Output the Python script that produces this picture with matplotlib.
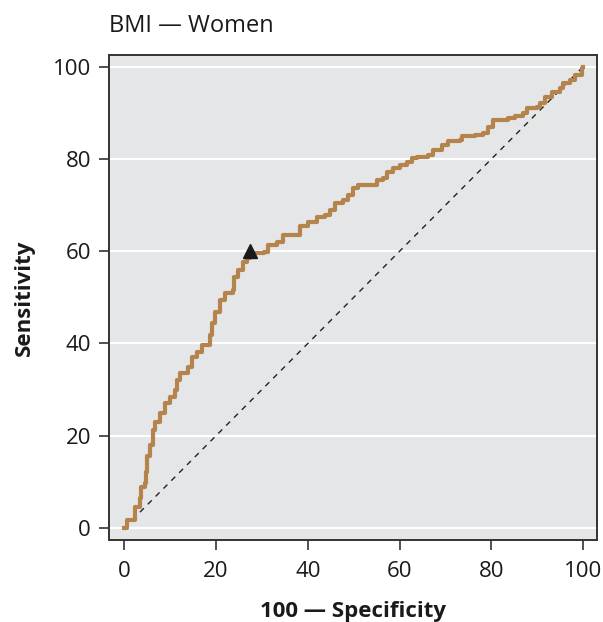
import numpy as np
import matplotlib.pyplot as plt

plt.rcParams['font.family'] = ['Open Sans', 'DejaVu Sans']

# ROC curve points (100 - specificity, sensitivity)
fpr = [0, 0.7, 2.4, 3.5, 3.6, 4.6, 4.7, 5.0, 5.7, 6.3, 6.8, 7.8, 8.9, 10.0,
       11.1, 11.5, 12.2, 13.9, 14.8, 15.9, 17.0, 18.7, 19.2, 19.8, 20.9, 22.0,
       23.7, 23.8, 24.8, 25.9, 26.8, 27.3, 28.5, 30.5, 31.4, 33.3, 34.6, 37.7,
       38.3, 40.1, 42.0, 43.8, 44.9, 46.0, 47.7, 48.8, 49.9, 51.0, 54.2, 55.1,
       56.4, 57.3, 58.6, 60.1, 61.7, 62.7, 63.8, 66.2, 67.2, 69.3, 70.6, 73.2,
       73.6, 76.5, 78.2, 79.3, 80.4, 83.7, 85.2, 86.9, 87.8, 90.0, 90.6, 91.7,
       93.2, 95.0, 95.6, 97.2, 98.3, 99.8, 100]
tpr = [0, 1.7, 4.6, 6.5, 8.9, 9.8, 12.1, 15.6, 18.0, 21.3, 23.0, 24.9, 27.1, 28.4,
       29.9, 32.1, 33.6, 34.9, 37.1, 38.2, 39.7, 41.9, 44.5, 46.9, 49.5, 51.0,
       51.6, 54.4, 56.0, 57.7, 58.6, 59.7, 59.7, 59.9, 61.4, 62.0, 63.6, 63.6,
       65.5, 66.4, 67.5, 67.9, 69.0, 70.5, 71.1, 72.2, 73.8, 74.4, 74.4, 75.5,
       75.9, 77.2, 78.1, 78.7, 79.4, 80.3, 80.5, 80.9, 81.9, 83.1, 83.9, 84.2,
       85.0, 85.2, 85.7, 87.0, 88.5, 88.9, 89.4, 90.0, 91.1, 91.3, 92.2, 93.5,
       94.6, 95.4, 96.5, 97.2, 98.3, 99.8, 100]

# optimal cut-off marker
cut_x = [27.3]
cut_y = [60.0]

ticks = [0, 20, 40, 60, 80, 100]

fig = plt.figure(figsize=(6.03, 6.22), dpi=100)
ax = fig.add_axes([0.181, 0.132, 0.809, 0.780])
ax.set_facecolor('#e5e6e8')

for t in ticks:
    ax.axhline(t, color='white', lw=1.6, zorder=1)

ax.plot([0, 100], [0, 100], color='#222222', lw=1.0, ls=(0, (4, 4)), zorder=2)
ax.plot(fpr, tpr, drawstyle='steps-post', color='#b5844c', lw=3.0, zorder=3)
ax.plot(cut_x, cut_y, marker='^', color='#1a1a1a', markersize=10, ls='none', zorder=4)

ax.set_xlim(-3.3, 103.0)
ax.set_ylim(-2.6, 102.6)
ax.set_xticks(ticks)
ax.set_yticks(ticks)
ax.tick_params(direction='out', length=7, width=1.2, color='#333333',
               labelsize=16, labelcolor='#1a1a1a', pad=6)
ax.tick_params(axis='x', pad=8)

for s in ax.spines.values():
    s.set_color('#333333')
    s.set_linewidth(1.4)

ax.set_xlabel('100 — Specificity', fontsize=16, fontweight='bold', color='#1a1a1a', labelpad=14)
ax.set_ylabel('Sensitivity', fontsize=16, fontweight='bold', color='#1a1a1a', labelpad=13)
fig.text(0.181, 0.958, 'BMI — Women', fontsize=17, color='#1a1a1a', ha='left', va='center')

fig.savefig('out.png', dpi=100)
